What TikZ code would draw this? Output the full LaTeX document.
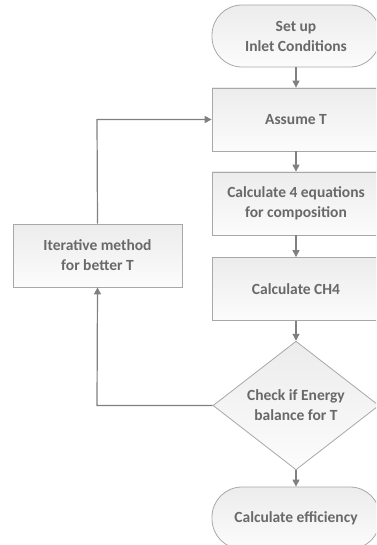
\documentclass[tikz,border=0pt]{standalone}
\usepackage{fontspec}
\setmainfont{Carlito}
\usetikzlibrary{shapes.geometric,arrows.meta}
\definecolor{linecol}{RGB}{128,128,128}
\definecolor{bordcol}{RGB}{168,168,168}
\definecolor{txtcol}{RGB}{105,105,105}
\definecolor{filltop}{RGB}{236,236,236}
\definecolor{fillbot}{RGB}{252,252,252}
\begin{document}
\begin{tikzpicture}[x=1pt,y=-1pt,
  base/.style={draw=bordcol, line width=0.8pt, top color=filltop, bottom color=fillbot,
    text=txtcol, font=\bfseries\fontsize{15.5}{20}\selectfont, align=center, inner sep=0pt},
  procbox/.style={base, rectangle, minimum width=168pt, minimum height=63pt},
  termbox/.style={base, rectangle, rounded corners=30pt, minimum width=168pt, minimum height=62pt},
  decbox/.style={base, diamond, minimum width=166pt, minimum height=123pt},
  flow/.style={draw=linecol, line width=1.2pt, -{Triangle[width=7pt,length=7pt]}}]
\useasboundingbox (0,0) rectangle (376,545);
\clip (0,0) rectangle (376,545);
\fill[white] (0,0) rectangle (376,545);
\node[termbox] (start) at (296,36) {Set up\\Inlet Conditions};
\node[procbox] (assume) at (296,119.5) {Assume T};
\node[procbox] (calc4) at (296,203.5) {Calculate 4 equations\\for composition};
\node[procbox] (ch4) at (296,289) {Calculate CH4};
\node[decbox] (check) at (296,405.5) {Check if Energy\\balance for T};
\node[termbox] (eff) at (296,518) {Calculate efficiency};
\node[procbox, minimum width=169pt] (iter) at (97.5,255.5) {Iterative method\\for better T};
\coordinate (lb) at (97,405.5);
\coordinate (lt) at (97,119.5);
\draw[flow] (start) -- (assume);
\draw[flow] (assume) -- (calc4);
\draw[flow] (calc4) -- (ch4);
\draw[flow] (ch4) -- (check);
\draw[flow] (check) -- (eff);
\draw[flow] (check.west) -- (lb) -- (iter.south);
\draw[flow] (iter.north) -- (lt) -- (assume.west);
\end{tikzpicture}
\end{document}
